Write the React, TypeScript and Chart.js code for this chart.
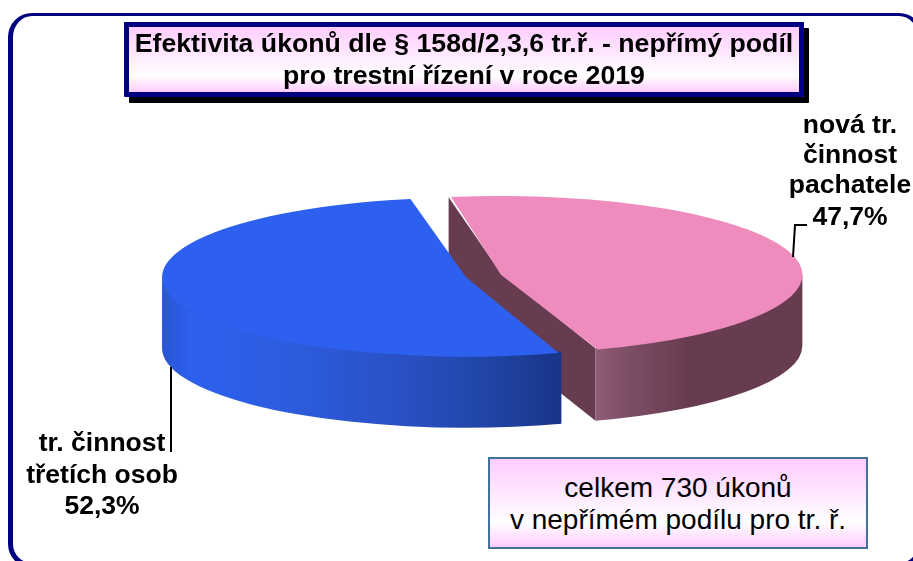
import React, { useEffect, useRef } from "react";
import { Chart, registerables } from "chart.js";

Chart.register(...registerables);

const categories = ["nová tr. činnost pachatele", "tr. činnost třetích osob"];
const values = [47.7, 52.3];
const topColors = ["#EE8CBE", "#2D60EE"];
const labelLines = [
  ["nová tr.", "činnost", "pachatele", "47,7%"],
  ["tr. činnost", "třetích osob", "52,3%"],
];
const titleLines = ["Efektivita úkonů dle § 158d/2,3,6 tr.ř. - nepřímý podíl", "pro trestní řízení v roce 2019"];
const noteLines = ["celkem 730 úkonů", "v nepřímém podílu pro tr. ř."];

const SQUASH = 0.2616;
const DEPTH = 71;
const FONT = '"Liberation Sans", Arial, sans-serif';

const pie3d = {
  id: "pie3d",
  beforeDatasetsDraw(chart: any) {
    const ctx = chart.ctx as CanvasRenderingContext2D;
    const arcs = chart.getDatasetMeta(0).data;
    const geom = arcs.map((arc: any) => {
      const p = arc.getProps(["x", "y", "startAngle", "endAngle", "outerRadius"], true);
      const off = (arc.options.offset || 0) / 4;
      const mid = (p.startAngle + p.endAngle) / 2;
      // ArcElement grows the drawn radius by the offset, in the same way
      const fix = 1 - Math.sin(Math.min(Math.PI, p.endAngle - p.startAngle));
      return {
        ...p,
        outerRadius: p.outerRadius + off * fix,
        cx: p.x + Math.cos(mid) * off,
        cy: p.y + Math.sin(mid) * off * SQUASH,
      };
    });
    const a = geom[0];
    const ry = (g: any) => g.outerRadius * SQUASH;
    const pt = (g: any, t: number) => [g.cx + g.outerRadius * Math.cos(t), g.cy + ry(g) * Math.sin(t)];
    const tip = pt(a, a.startAngle);
    const end = pt(a, a.endAngle);
    const LIFT = 1.5; // walls tuck under the top face so no seam shows
    ctx.save();
    ctx.fillStyle = "#683C50";
    ctx.beginPath();
    ctx.moveTo(tip[0], tip[1]);
    ctx.lineTo(a.cx, a.cy - LIFT);
    ctx.lineTo(end[0], end[1] - LIFT);
    ctx.lineTo(end[0], end[1] + DEPTH);
    ctx.lineTo(a.cx, a.cy + DEPTH);
    ctx.lineTo(tip[0], tip[1] + DEPTH);
    ctx.closePath();
    ctx.fill();

    const rim = (g: any, t0: number, t1: number, stops: [number, string][]) => {
      const x0 = Math.min(pt(g, t0)[0], pt(g, t1)[0]);
      const x1 = Math.max(pt(g, t0)[0], pt(g, t1)[0]);
      const grad = ctx.createLinearGradient(x0, 0, x1, 0);
      stops.forEach(([o, c]) => grad.addColorStop(o, c));
      ctx.fillStyle = grad;
      ctx.beginPath();
      ctx.ellipse(g.cx, g.cy - LIFT, g.outerRadius, ry(g), 0, t0, t1, false);
      ctx.ellipse(g.cx, g.cy + DEPTH, g.outerRadius, ry(g), 0, t1, t0, true);
      ctx.closePath();
      ctx.fill();
    };
    rim(a, 0, a.endAngle, [
      [0, "#905B76"],
      [0.15, "#7E4E66"],
      [0.45, "#683C50"],
      [1, "#683C50"],
    ]);
    const b = geom[1];
    rim(b, b.startAngle, Math.PI, [
      [0, "#2A56D4"],
      [0.08, "#2D60EE"],
      [0.35, "#2C5BDC"],
      [0.6, "#2A50C4"],
      [0.8, "#2146A8"],
      [1, "#183488"],
    ]);
    ctx.restore();
  },
  beforeDatasetDraw(chart: any) {
    const ctx = chart.ctx as CanvasRenderingContext2D;
    const { x, y } = chart.getDatasetMeta(0).data[0];
    ctx.save();
    ctx.translate(x, y);
    ctx.scale(1, SQUASH);
    ctx.translate(-x, -y);
  },
  afterDatasetDraw(chart: any) {
    chart.ctx.restore();
  },
  afterDatasetsDraw(chart: any) {
    const ctx = chart.ctx as CanvasRenderingContext2D;
    ctx.save();
    ctx.strokeStyle = "#000";
    ctx.lineWidth = 2;
    ctx.beginPath();
    ctx.moveTo(793, 257);
    ctx.lineTo(795, 225);
    ctx.lineTo(807, 225);
    ctx.moveTo(171, 367);
    ctx.lineTo(171, 452);
    ctx.stroke();
    ctx.fillStyle = "#000";
    ctx.font = `bold 26.5px ${FONT}`;
    ctx.textAlign = "center";
    ctx.textBaseline = "alphabetic";
    labelLines[0].forEach((s, i) => ctx.fillText(s, 850, [133, 163, 193, 225][i]));
    labelLines[1].forEach((s, i) => ctx.fillText(s, 102, [451, 483, 514][i]));
    ctx.restore();
  },
};

export default function App() {
  const ref = useRef<HTMLCanvasElement>(null);
  useEffect(() => {
    document.body.style.margin = "0";
    const chart = new Chart(ref.current!, {
      type: "pie",
      data: {
        labels: categories,
        datasets: [{ data: values, backgroundColor: topColors, borderWidth: 0, offset: 72, clip: false } as any],
      },
      options: {
        responsive: false,
        animation: false,
        rotation: -10,
        radius: 286,
        layout: { padding: { left: 54, bottom: 9 } },
        plugins: { legend: { display: false }, tooltip: { enabled: false }, title: { display: false } },
      } as any,
      plugins: [pie3d],
    });
    return () => chart.destroy();
  }, []);

  return (
    <div style={{ position: "fixed", left: 0, top: 0, width: 913, height: 561, overflow: "hidden", background: "#fff" }}>
      <div
        style={{
          position: "absolute",
          left: 8,
          top: 13,
          width: 915,
          height: 555,
          boxSizing: "border-box",
          borderStyle: "solid",
          borderColor: "#000080",
          borderWidth: "3px 5px 5px 5px",
          borderRadius: 24,
        }}
      />
      <canvas ref={ref} width={913} height={561} style={{ position: "absolute", left: 0, top: 0, display: "block" }} />
      <div
        style={{
          position: "absolute",
          left: 124,
          top: 22,
          width: 680,
          height: 75,
          boxSizing: "border-box",
          border: "5px solid #000080",
          borderRadius: 1,
          boxShadow: "5px 6px 0 #000",
          background: "linear-gradient(180deg,#FFCCFF 0%,#FFFFFF 75%,#FFCCFF 100%)",
          font: `bold 26.7px ${FONT}`,
          lineHeight: "32px",
          textAlign: "center",
          color: "#000",
          whiteSpace: "nowrap",
          paddingTop: 0,
        }}
      >
        {titleLines.map((s) => (
          <div key={s}>{s}</div>
        ))}
      </div>
      <div
        style={{
          position: "absolute",
          left: 488,
          top: 457,
          width: 380,
          height: 92,
          boxSizing: "border-box",
          border: "2px solid #41719C",
          background: "linear-gradient(180deg,#FFCCFF 0%,#FFFFFF 72%,#FFCCFF 100%)",
          font: `28px ${FONT}`,
          lineHeight: "32px",
          textAlign: "center",
          color: "#000",
          whiteSpace: "nowrap",
          paddingTop: 13,
        }}
      >
        {noteLines.map((s) => (
          <div key={s}>{s}</div>
        ))}
      </div>
    </div>
  );
}
